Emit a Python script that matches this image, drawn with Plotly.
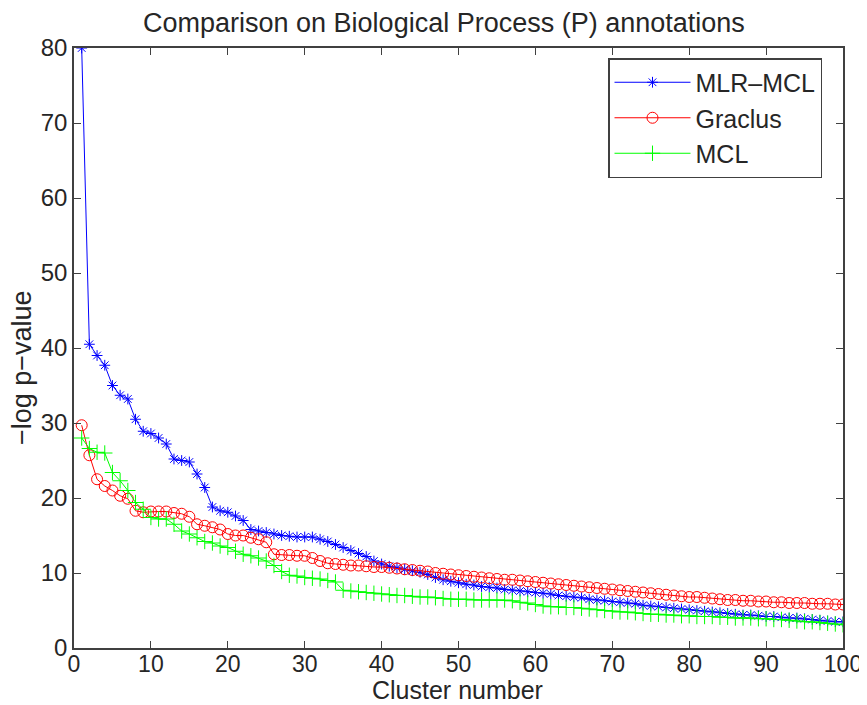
import plotly.graph_objects as go

cluster = list(range(1, 101))

mlr_mcl = [80, 40.5, 39.0, 37.7, 35.0, 33.7, 33.2, 30.5, 28.9, 28.6,
           28.0, 27.2, 25.2, 25.0, 24.8, 23.2, 21.4, 18.8, 18.3, 18.1,
           17.6, 17.0, 15.8, 15.6, 15.4, 15.2, 15.0, 14.9, 14.8, 14.8,
           14.8, 14.5, 14.2, 13.8, 13.4, 13.0, 12.6, 12.2, 11.6, 11.2,
           10.9, 10.7, 10.5, 10.3, 10.1, 9.8, 9.4, 9.1, 8.9, 8.7,
           8.5, 8.4, 8.2, 8.1, 8.0, 7.8, 7.7, 7.6, 7.5, 7.4,
           7.3, 7.2, 7.0, 6.9, 6.8, 6.7, 6.5, 6.4, 6.3, 6.2,
           6.1, 6.0, 5.9, 5.7, 5.6, 5.5, 5.4, 5.3, 5.2, 5.1,
           5.0, 4.9, 4.8, 4.7, 4.6, 4.5, 4.4, 4.4, 4.3, 4.2,
           4.2, 4.1, 4.0, 4.0, 3.9, 3.8, 3.7, 3.6, 3.5, 3.5]

graclus = [29.7, 25.7, 22.5, 21.6, 21.0, 20.3, 19.9, 18.3, 18.1, 18.2,
           18.2, 18.2, 18.0, 17.9, 17.5, 16.5, 16.3, 16.1, 15.8, 15.2,
           15.0, 15.0, 14.7, 14.5, 14.1, 12.5, 12.4, 12.4, 12.3, 12.3,
           12.0, 11.6, 11.3, 11.2, 11.1, 11.0, 11.0, 10.9, 10.8, 10.8,
           10.7, 10.6, 10.5, 10.4, 10.3, 10.2, 10.0, 9.9, 9.8, 9.7,
           9.6, 9.5, 9.4, 9.3, 9.2, 9.1, 9.1, 9.0, 8.9, 8.8,
           8.7, 8.6, 8.5, 8.4, 8.3, 8.2, 8.1, 8.0, 7.9, 7.8,
           7.7, 7.6, 7.5, 7.4, 7.3, 7.2, 7.1, 7.0, 6.9, 6.8,
           6.8, 6.7, 6.6, 6.5, 6.4, 6.4, 6.3, 6.3, 6.2, 6.2,
           6.1, 6.1, 6.0, 6.0, 6.0, 5.9, 5.9, 5.9, 5.8, 5.8]

mcl = [28.0, 26.6, 26.1, 26.0, 23.4, 22.3, 21.0, 19.4, 18.5, 17.4,
       17.2, 17.2, 16.5, 15.6, 15.2, 14.7, 14.2, 14.0, 13.6, 13.4,
       12.9, 12.5, 12.3, 12.0, 11.6, 11.0, 10.2, 9.7, 9.6, 9.4,
       9.3, 9.2, 9.0, 8.8, 7.7, 7.6, 7.5, 7.4, 7.3, 7.2,
       7.1, 7.0, 7.0, 6.9, 6.8, 6.8, 6.7, 6.6, 6.5, 6.5,
       6.5, 6.4, 6.4, 6.4, 6.4, 6.4, 6.3, 6.1, 6.0, 5.8,
       5.6, 5.5, 5.5, 5.4, 5.4, 5.3, 5.2, 5.1, 5.0, 4.9,
       4.8, 4.8, 4.7, 4.6, 4.5, 4.5, 4.4, 4.4, 4.3, 4.3,
       4.2, 4.2, 4.2, 4.1, 4.1, 4.0, 4.0, 4.0, 3.9, 3.9,
       3.8, 3.8, 3.7, 3.6, 3.5, 3.5, 3.4, 3.3, 3.2, 3.1]

x_ticks = [0, 10, 20, 30, 40, 50, 60, 70, 80, 90, 100]
y_ticks = [0, 10, 20, 30, 40, 50, 60, 70, 80]

FONT = "Liberation Sans, Arial, Helvetica, sans-serif"
TXT = "#262626"

# The page places the figure 8px from the window's top-left corner.
OFF = 8
W, H = 867 - OFF, 705 - OFF
# plot area edges in window pixels
X0, X1, Y0, Y1 = 74, 843, 48, 648
L, T = X0 - OFF, Y0 - OFF
R, B = W - (X1 - OFF), H - (Y1 - OFF)
PW, PH = W - L - R, H - T - B


def px_x(p):
    return (p - X0) / PW


def px_y(p):
    return (Y1 - p) / PH


fig = go.Figure()
fig.add_trace(go.Scatter(
    x=cluster, y=mlr_mcl, name="MLR\u2013MCL", mode="lines+markers",
    line=dict(color="rgb(0,0,255)", width=1),
    marker=dict(symbol="asterisk-open", size=9, color="rgb(0,0,255)",
                line=dict(color="rgb(0,0,255)", width=1))))
fig.add_trace(go.Scatter(
    x=cluster, y=graclus, name="Graclus", mode="lines+markers",
    line=dict(color="rgb(255,0,0)", width=1),
    marker=dict(symbol="circle-open", size=11, color="rgb(255,0,0)",
                line=dict(color="rgb(255,0,0)", width=1))))
fig.add_trace(go.Scatter(
    x=cluster, y=mcl, name="MCL", mode="lines+markers",
    line=dict(color="rgb(0,255,0)", width=1),
    marker=dict(symbol="cross-thin-open", size=11, color="rgb(0,255,0)",
                line=dict(color="rgb(0,255,0)", width=1))))

axis_common = dict(
    showgrid=False, zeroline=False, showline=True, linecolor="#404040",
    linewidth=1.5, mirror="allticks", ticks="inside", ticklen=7,
    tickcolor="#404040", tickwidth=1, automargin=False,
)

fig.update_layout(
    width=W, height=H,
    margin=dict(l=L, r=R, t=T, b=B, autoexpand=False),
    paper_bgcolor="white", plot_bgcolor="white",
    font=dict(family=FONT, size=26, color=TXT),
    xaxis=dict(range=[0, 100], tickvals=x_ticks, ticktext=[str(v) for v in x_ticks],
               tickfont=dict(family=FONT, size=23, color=TXT),
               ticklabelstandoff=-5, **axis_common),
    yaxis=dict(range=[0, 80], tickvals=y_ticks, ticktext=[str(v) for v in y_ticks],
               tickfont=dict(family=FONT, size=24, color=TXT),
               **axis_common),
    legend=dict(x=px_x(608), y=px_y(58), xanchor="left", yanchor="top",
                bgcolor="white", bordercolor="#404040", borderwidth=1.5,
                font=dict(family=FONT, size=25, color=TXT),
                itemwidth=76, tracegroupgap=0),
    showlegend=True,
    annotations=[
        dict(text="Comparison on Biological Process (P) annotations",
             xref="paper", yref="paper", x=px_x(444), y=px_y(23),
             xanchor="center", yanchor="middle", showarrow=False,
             font=dict(family=FONT, size=27, color=TXT)),
        dict(text="Cluster number", xref="paper", yref="paper",
             x=px_x(457), y=px_y(690), xanchor="center", yanchor="middle",
             showarrow=False, font=dict(family=FONT, size=25, color=TXT)),
        dict(text="\u2212log p\u2212value", xref="paper", yref="paper",
             x=px_x(22), y=px_y(368), xanchor="center", yanchor="middle",
             textangle=-90, showarrow=False,
             font=dict(family=FONT, size=27, color=TXT)),
    ],
)

fig.write_html("out.html")
